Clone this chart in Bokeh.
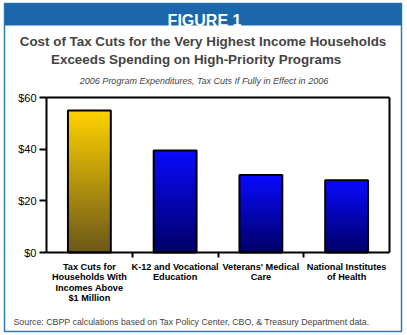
from bokeh.plotting import figure
from bokeh.models import Label, FixedTicker, NumeralTickFormatter, LinearAxis, BoxAnnotation, Range1d
from bokeh.embed import file_html
from bokeh.resources import INLINE

categories = ["Tax Cuts for\nHouseholds With\nIncomes Above\n$1 Million",
              "K-12 and Vocational\nEducation",
              "Veterans' Medical\nCare",
              "National Institutes\nof Health"]
values = [55, 39.5, 30, 28]
y_ticks = [0, 20, 40, 60]
header = "FIGURE 1"
title1 = "Cost of Tax Cuts for the Very Highest Income Households"
title2 = "Exceeds Spending  on High-Priority Programs"
subtitle = "2006 Program Expenditures, Tax Cuts If Fully in Effect in 2006"
source = "Source:  CBPP calculations based on Tax Policy Center, CBO, & Treasury Department data."

W, H = 407, 335
# outer (blue-bordered) box, in page pixels
OL, OR, OT, OB = 4, 401, 3, 331
# plot area, in page pixels
PL, PR, PT, PB = 46, 389, 97, 252
FONT = "Liberation Sans"

ncat = len(categories)
ymax = y_ticks[-1]
kx = (PR - PL) / ncat
ky = (PB - PT) / ymax
x_range = Range1d(-(PL - OL) / kx, ncat + (OR - PR) / kx)
y_range = Range1d(-(OB - PB) / ky, ymax + (PT - OT) / ky)

p = figure(width=W, height=H, output_backend="svg", toolbar_location=None,
           x_range=x_range, y_range=y_range, x_axis_location=None, y_axis_location=None,
           min_border_left=OL, min_border_right=W - OR, min_border_top=OT, min_border_bottom=H - OB)
p.grid.visible = False
p.outline_line_color = "#2C7BB6"
p.outline_line_width = 1.5
p.background_fill_color = "white"
p.border_fill_color = "white"


def sx(px):
    return px - OL


def sy(py):
    return OB - py


# header band
p.add_layout(BoxAnnotation(left=0, right=sx(W), top=sy(0), bottom=sy(25),
                           left_units="screen", right_units="screen", top_units="screen",
                           bottom_units="screen", fill_color="#1C67AC", fill_alpha=1,
                           line_color=None, level="underlay"))

# gradient bars
def lerp(c1, c2, t):
    return "#%02x%02x%02x" % tuple(int(round(a + (b - a) * t)) for a, b in zip(c1, c2))

N = 80
for i, v in enumerate(values):
    if i == 0:
        bot, top = (0x6B, 0x57, 0x1A), (0xFF, 0xD2, 0x00)
    else:
        bot, top = (0x00, 0x00, 0x66), (0x0A, 0x0A, 0xFF)
    tops = [v * (k + 1) / N for k in range(N)][::-1]
    colors = [lerp(bot, top, (k + 0.5) / N) for k in range(N)][::-1]
    p.quad(left=i + 0.25, right=i + 0.75, bottom=0, top=tops, fill_color=colors, line_color=None)
    p.quad(left=i + 0.25, right=i + 0.75, bottom=0, top=v, fill_color=None, line_color="black",
           line_width=2)

# axes at fixed locations
yax = LinearAxis(fixed_location=0, bounds=(0, ymax))
yax.ticker = FixedTicker(ticks=y_ticks, minor_ticks=[])
yax.formatter = NumeralTickFormatter(format="$0")
yax.axis_line_width = 2
yax.axis_line_color = "black"
yax.major_tick_line_width = 2
yax.major_tick_out = 7
yax.major_tick_in = 0
yax.major_label_text_font = FONT
yax.major_label_text_font_size = "11px"
yax.major_label_text_color = "black"
yax.major_label_standoff = 3
p.add_layout(yax, "left")

xax = LinearAxis(fixed_location=0, bounds=(0, ncat))
xax.ticker = FixedTicker(ticks=[i + 0.5 for i in range(ncat)], minor_ticks=list(range(1, ncat)))
xax.major_label_overrides = {i + 0.5: c for i, c in enumerate(categories)}
xax.axis_line_width = 2
xax.axis_line_color = "black"
xax.major_tick_line_color = None
xax.major_tick_out = 0
xax.major_tick_in = 0
xax.minor_tick_line_width = 2
xax.minor_tick_line_color = "black"
xax.minor_tick_out = 5
xax.minor_tick_in = 0
xax.major_label_text_font = FONT
xax.major_label_text_font_style = "bold"
xax.major_label_text_font_size = "9.2px"
xax.major_label_text_color = "black"
xax.major_label_text_line_height = 1.05
xax.major_label_standoff = 4
p.add_layout(xax, "below")

# frame box top and right edges
for loc, side, bnds in [(ymax, "above", (0, ncat)), (ncat, "right", (0, ymax))]:
    ax = LinearAxis(fixed_location=loc, bounds=bnds)
    ax.ticker = FixedTicker(ticks=[], minor_ticks=[])
    ax.axis_line_width = 2
    ax.axis_line_color = "black"
    ax.major_label_text_font_size = "0px"
    p.add_layout(ax, side)

# titles
p.add_layout(Label(x=sx(204), y=sy(20), x_units="screen", y_units="screen", text=header,
                   text_font=FONT, text_font_style="bold", text_font_size="16px", text_color="white",
                   text_align="center", text_baseline="alphabetic"))
p.add_layout(Label(x=sx(202.5), y=sy(41), x_units="screen", y_units="screen", text=title1,
                   text_font=FONT, text_font_style="bold", text_font_size="13.4px",
                   text_align="center", text_baseline="alphabetic"))
p.add_layout(Label(x=sx(197.5), y=sy(59), x_units="screen", y_units="screen", text=title2,
                   text_font=FONT, text_font_style="bold", text_font_size="13.4px",
                   text_align="center", text_baseline="alphabetic"))
p.add_layout(Label(x=sx(203.5), y=sy(80), x_units="screen", y_units="screen", text=subtitle,
                   text_font=FONT, text_font_style="italic", text_font_size="9px",
                   text_align="center", text_baseline="alphabetic"))
p.add_layout(Label(x=sx(13), y=sy(321), x_units="screen", y_units="screen", text=source,
                   text_font=FONT, text_font_size="8.8px",
                   text_align="left", text_baseline="alphabetic"))

open("out.html", "w").write(file_html(p, INLINE))
